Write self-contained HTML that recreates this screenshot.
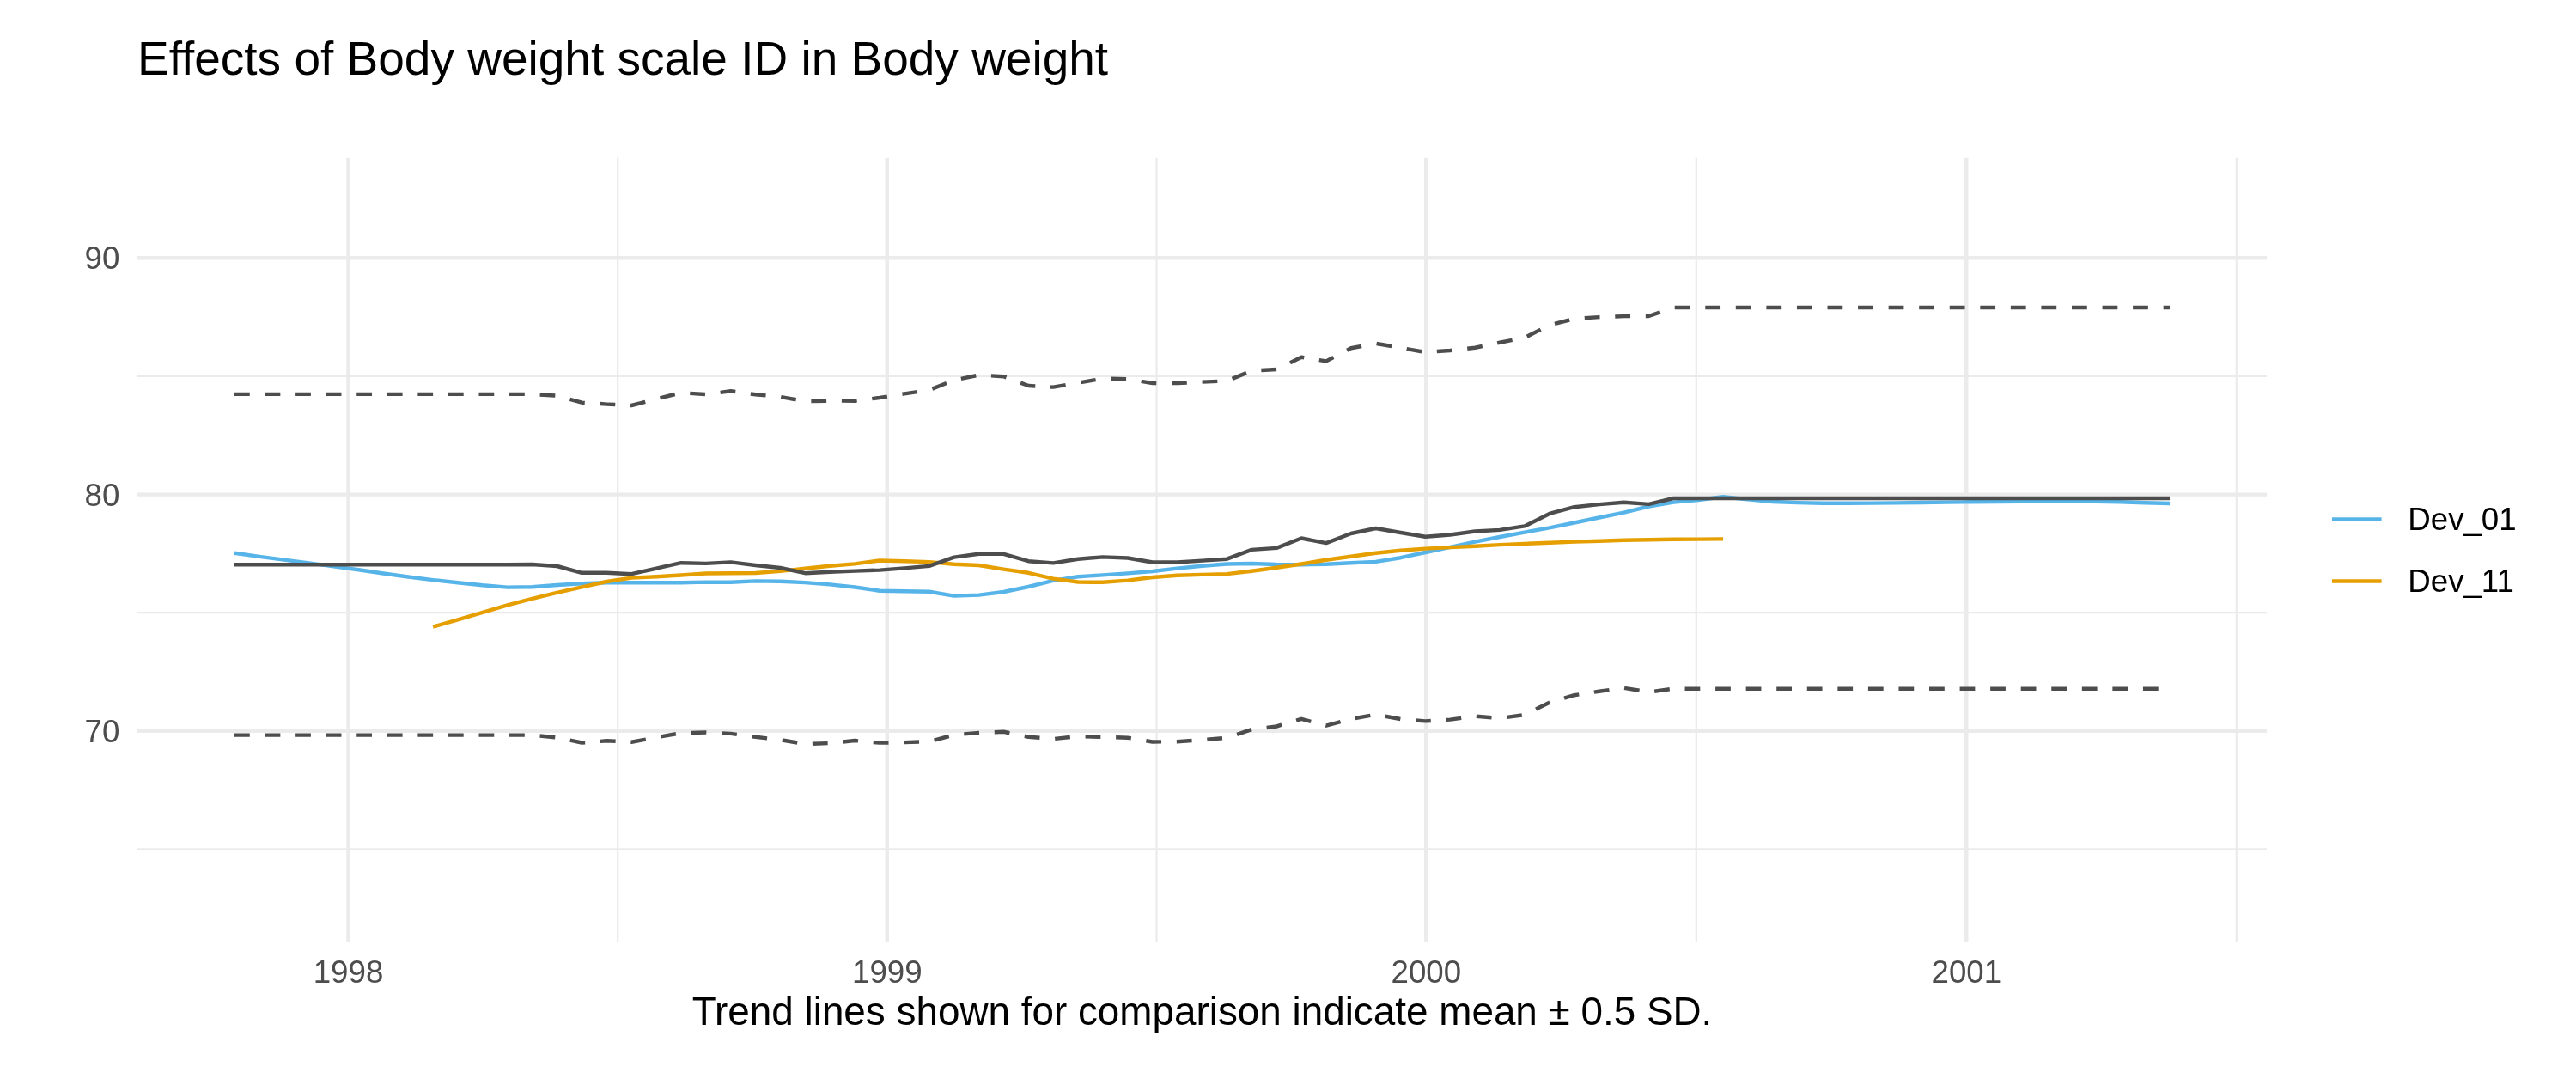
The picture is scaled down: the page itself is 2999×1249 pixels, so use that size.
<!DOCTYPE html>
<html><head><meta charset="utf-8"><title>Effects of Body weight scale ID in Body weight</title>
<style>html,body{margin:0;padding:0;background:#fff;overflow:hidden;}svg{display:block;will-change:transform;}text{font-family:"Liberation Sans",Arial,Helvetica,sans-serif;}</style></head><body>
<svg width="2999" height="1249" viewBox="0 0 2999 1249">
<rect x="0" y="0" width="2999" height="1249" fill="#FFFFFF"/>
<g stroke="#EBEBEB" stroke-width="2.223" stroke-linecap="butt" fill="none"><line x1="160.0" y1="437.95" x2="2639.1" y2="437.95"/><line x1="160.0" y1="713.20" x2="2639.1" y2="713.20"/><line x1="160.0" y1="988.40" x2="2639.1" y2="988.40"/><line x1="719.15" y1="183.7" x2="719.15" y2="1096.7"/><line x1="1346.55" y1="183.7" x2="1346.55" y2="1096.7"/><line x1="1974.80" y1="183.7" x2="1974.80" y2="1096.7"/><line x1="2603.80" y1="183.7" x2="2603.80" y2="1096.7"/></g>
<g stroke="#EBEBEB" stroke-width="4.446" stroke-linecap="butt" fill="none"><line x1="160.0" y1="300.30" x2="2639.1" y2="300.30"/><line x1="160.0" y1="575.60" x2="2639.1" y2="575.60"/><line x1="160.0" y1="850.80" x2="2639.1" y2="850.80"/><line x1="405.50" y1="183.7" x2="405.50" y2="1096.7"/><line x1="1032.80" y1="183.7" x2="1032.80" y2="1096.7"/><line x1="1660.30" y1="183.7" x2="1660.30" y2="1096.7"/><line x1="2289.30" y1="183.7" x2="2289.30" y2="1096.7"/></g>
<g fill="none" stroke-width="4.446" stroke-linecap="butt" stroke-linejoin="round">
<polyline stroke="#4D4D4D" stroke-dasharray="17.78 17.78" points="273.00,458.90 301.88,458.90 330.77,458.90 359.65,458.90 388.54,458.90 417.43,458.90 446.31,458.90 475.20,458.90 504.08,458.90 532.97,458.90 561.85,458.90 590.74,458.90 619.62,458.90 648.50,460.60 677.39,468.70 706.28,470.60 735.16,472.00 764.05,464.50 792.93,457.20 821.82,459.10 850.70,455.30 879.59,459.20 908.47,462.00 937.36,467.20 966.24,466.60 995.12,466.70 1024.01,463.00 1052.89,458.40 1081.78,454.00 1110.66,442.60 1139.55,436.60 1168.43,438.20 1197.32,449.00 1226.20,450.60 1255.09,445.70 1283.97,440.60 1312.86,441.30 1341.75,446.00 1370.63,446.10 1399.52,444.60 1428.40,443.40 1457.29,431.60 1486.17,430.00 1515.06,415.70 1543.94,420.40 1572.83,405.30 1601.71,399.90 1630.60,404.80 1659.48,410.00 1688.37,408.00 1717.25,404.80 1746.13,398.70 1775.02,393.10 1803.90,378.40 1832.79,371.10 1861.68,369.10 1890.56,368.10 1919.45,368.00 1948.33,358.00 1977.22,358.00 2006.10,358.00 2034.99,358.00 2063.87,358.00 2092.76,358.00 2121.64,358.00 2150.53,358.00 2179.41,358.00 2208.30,358.00 2237.18,358.00 2266.07,358.00 2294.95,358.00 2323.84,358.00 2352.72,358.00 2381.61,358.00 2410.49,358.00 2439.38,358.00 2468.26,358.00 2497.14,358.00 2526.03,358.00"/>
<polyline stroke="#4D4D4D" stroke-dasharray="17.78 17.78" points="273.00,855.60 301.88,855.60 330.77,855.60 359.65,855.60 388.54,855.60 417.43,855.60 446.31,855.60 475.20,855.60 504.08,855.60 532.97,855.60 561.85,855.60 590.74,855.60 619.62,855.60 648.50,858.40 677.39,864.50 706.28,862.30 735.16,863.70 764.05,858.30 792.93,853.20 821.82,852.50 850.70,853.90 879.59,857.80 908.47,861.10 937.36,866.10 966.24,865.00 995.12,862.00 1024.01,864.60 1052.89,864.10 1081.78,863.20 1110.66,855.40 1139.55,852.90 1168.43,851.80 1197.32,857.70 1226.20,860.10 1255.09,857.00 1283.97,857.90 1312.86,858.70 1341.75,863.50 1370.63,863.20 1399.52,861.30 1428.40,858.70 1457.29,849.10 1486.17,845.50 1515.06,836.80 1543.94,844.60 1572.83,836.80 1601.71,831.80 1630.60,837.00 1659.48,839.40 1688.37,837.60 1717.25,833.70 1746.13,836.00 1775.02,832.00 1803.90,817.70 1832.79,809.20 1861.68,804.70 1890.56,800.80 1919.45,805.60 1948.33,801.70 1977.22,801.70 2006.10,801.70 2034.99,801.70 2063.87,801.70 2092.76,801.70 2121.64,801.70 2150.53,801.70 2179.41,801.70 2208.30,801.70 2237.18,801.70 2266.07,801.70 2294.95,801.70 2323.84,801.70 2352.72,801.70 2381.61,801.70 2410.49,801.70 2439.38,801.70 2468.26,801.70 2497.14,801.70 2526.03,801.70"/>
<polyline stroke="#56B4E9" points="273.00,643.80 301.88,647.90 330.77,651.60 359.65,655.40 388.54,659.40 417.43,663.30 446.31,667.50 475.20,671.50 504.08,675.10 532.97,678.30 561.85,681.30 590.74,683.60 619.62,683.20 648.50,681.00 677.39,679.20 706.28,678.20 735.16,678.30 764.05,678.30 792.93,678.20 821.82,677.60 850.70,677.80 879.59,676.40 908.47,676.70 937.36,678.10 966.24,680.40 995.12,683.50 1024.01,687.70 1052.89,688.20 1081.78,688.70 1110.66,693.60 1139.55,692.60 1168.43,689.00 1197.32,683.00 1226.20,675.90 1255.09,671.20 1283.97,669.40 1312.86,667.40 1341.75,665.00 1370.63,661.60 1399.52,658.80 1428.40,656.50 1457.29,656.00 1486.17,657.00 1515.06,657.30 1543.94,656.80 1572.83,655.20 1601.71,653.90 1630.60,649.20 1659.48,643.00 1688.37,636.80 1717.25,630.60 1746.13,625.00 1775.02,619.60 1803.90,614.40 1832.79,608.50 1861.68,602.50 1890.56,596.60 1919.45,589.50 1948.33,584.60 1977.22,582.00 2006.10,578.30 2034.99,581.40 2063.87,584.00 2092.76,585.10 2121.64,585.80 2150.53,585.80 2179.41,585.60 2208.30,585.40 2237.18,585.00 2266.07,584.60 2294.95,584.30 2323.84,584.00 2352.72,583.70 2381.61,583.60 2410.49,583.60 2439.38,583.80 2468.26,584.30 2497.14,585.20 2526.03,586.00"/>
<polyline stroke="#E69F00" points="504.08,729.60 532.97,721.30 561.85,712.80 590.74,704.40 619.62,696.80 648.50,689.80 677.39,683.40 706.28,677.00 735.16,672.60 764.05,671.20 792.93,669.50 821.82,667.50 850.70,667.30 879.59,667.00 908.47,664.90 937.36,661.80 966.24,658.70 995.12,656.40 1024.01,652.50 1052.89,653.30 1081.78,654.10 1110.66,656.70 1139.55,658.00 1168.43,662.60 1197.32,666.80 1226.20,673.60 1255.09,677.50 1283.97,677.80 1312.86,675.60 1341.75,672.00 1370.63,669.70 1399.52,668.90 1428.40,668.10 1457.29,664.70 1486.17,660.70 1515.06,656.50 1543.94,651.80 1572.83,647.80 1601.71,643.80 1630.60,640.70 1659.48,638.60 1688.37,637.10 1717.25,635.70 1746.13,634.10 1775.02,632.90 1803.90,631.80 1832.79,630.60 1861.68,629.80 1890.56,628.70 1919.45,628.20 1948.33,627.80 1977.22,627.60 2006.10,627.40"/>
<polyline stroke="#4D4D4D" points="273.00,657.20 301.88,657.20 330.77,657.20 359.65,657.20 388.54,657.20 417.43,657.20 446.31,657.20 475.20,657.20 504.08,657.20 532.97,657.20 561.85,657.20 590.74,657.20 619.62,657.00 648.50,659.00 677.39,666.80 706.28,666.80 735.16,668.20 764.05,661.70 792.93,655.20 821.82,655.90 850.70,654.40 879.59,658.00 908.47,661.00 937.36,667.20 966.24,665.80 995.12,664.60 1024.01,663.60 1052.89,661.40 1081.78,658.90 1110.66,648.60 1139.55,644.80 1168.43,644.90 1197.32,653.20 1226.20,655.40 1255.09,650.70 1283.97,648.40 1312.86,649.50 1341.75,654.50 1370.63,654.50 1399.52,652.60 1428.40,650.70 1457.29,639.90 1486.17,637.90 1515.06,626.50 1543.94,632.10 1572.83,621.00 1601.71,615.00 1630.60,620.00 1659.48,624.70 1688.37,622.50 1717.25,618.50 1746.13,616.90 1775.02,612.40 1803.90,597.90 1832.79,590.20 1861.68,587.10 1890.56,584.80 1919.45,586.90 1948.33,580.00 1977.22,580.00 2006.10,580.00 2034.99,580.00 2063.87,580.00 2092.76,580.00 2121.64,580.00 2150.53,580.00 2179.41,580.00 2208.30,580.00 2237.18,580.00 2266.07,580.00 2294.95,580.00 2323.84,580.00 2352.72,580.00 2381.61,580.00 2410.49,580.00 2439.38,580.00 2468.26,580.00 2497.14,580.00 2526.03,580.00"/>
</g>
<g fill="#4D4D4D" font-size="36.67" text-anchor="end"><text x="139.4" y="313.40">90</text><text x="139.4" y="588.70">80</text><text x="139.4" y="863.90">70</text></g>
<g fill="#4D4D4D" font-size="36.67" text-anchor="middle"><text x="405.50" y="1143.7">1998</text><text x="1032.80" y="1143.7">1999</text><text x="1660.30" y="1143.7">2000</text><text x="2289.30" y="1143.7">2001</text></g>
<text x="160" y="87.1" font-size="55" fill="#000000">Effects of Body weight scale ID in Body weight</text>
<text x="1399.55" y="1192.8" font-size="45.83" fill="#000000" text-anchor="middle">Trend lines shown for comparison indicate mean &#177; 0.5 SD.</text>
<g stroke-width="4.446" stroke-linecap="butt"><line x1="2715.0" y1="604.45" x2="2772.6" y2="604.45" stroke="#56B4E9"/><line x1="2715.0" y1="676.45" x2="2772.6" y2="676.45" stroke="#E69F00"/></g>
<g fill="#000000" font-size="36.67"><text x="2803.3" y="617.0">Dev_01</text><text x="2803.3" y="689.0">Dev_11</text></g>
</svg>
</body></html>
